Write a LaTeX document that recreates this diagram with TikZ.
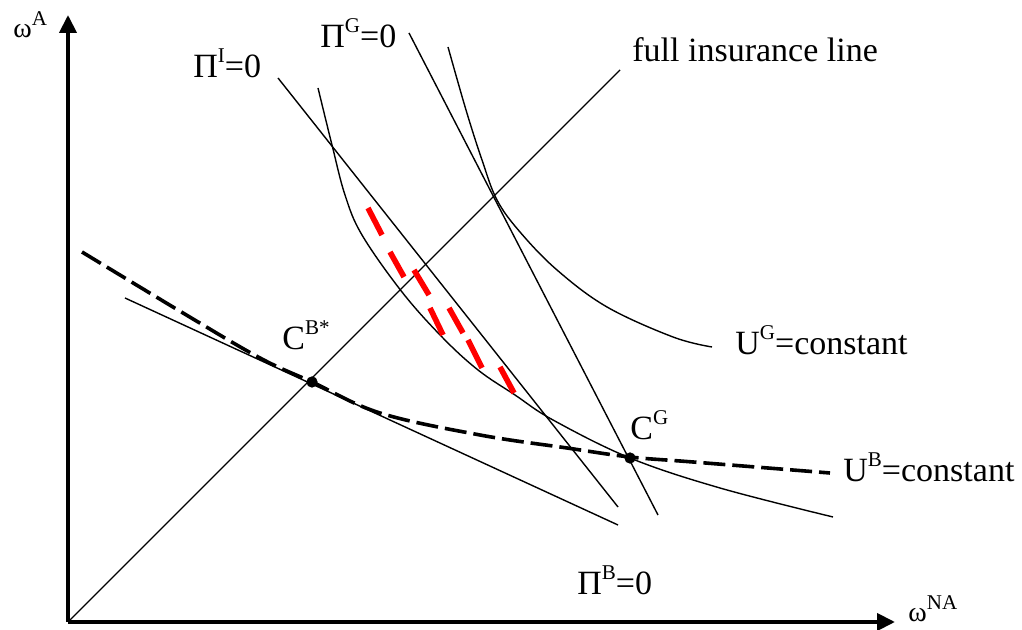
\documentclass[tikz,border=0pt]{standalone}
\usepackage{fontspec}
\setmainfont{Liberation Serif}
\usepackage{xcolor}
\usepackage{tikz}
\usetikzlibrary{arrows.meta}
\definecolor{lensred}{HTML}{FF0000}
\newcommand{\upidx}[2][7.5pt]{\raisebox{#1}{\fontsize{10.5}{10.5}\selectfont #2}}

\begin{document}
\begin{tikzpicture}[x=0.5pt,y=0.5pt,
  lbl/.style={anchor=base west,inner sep=0pt,font=\fontsize{17}{20}\selectfont},
  wlbl/.style={anchor=base west,inner sep=0pt,font=\fontsize{14}{16}\selectfont},
  thinline/.style={line width=0.7pt},
  axis/.style={line width=2pt,-{Triangle[length=9pt,width=8.5pt]}},
  ucurve/.style={line width=1.8pt,dash pattern=on 11pt off 3.5pt},
  lens/.style={lensred,line width=2.8pt}]
  \useasboundingbox (0,0) rectangle (1022,630);
  \coordinate (O) at (68,8);
  \coordinate (ytip) at (68,615);
  \coordinate (xtip) at (895,8);
  \coordinate (CBs) at (312,248);
  \coordinate (CG) at (630,172);

  \draw[axis] (O) -- (ytip);
  \draw[axis] (O) -- (xtip);
  \node[wlbl] (wa) at (13,592) {ω\upidx[6pt]{A}};
  \node[wlbl] (wna) at (908,8) {ω\upidx[6pt]{NA}};

  \draw[thinline] (O) -- (620,560);
  \node[lbl] (full) at (632,568) {full insurance line};

  \draw[thinline] (278,552) -- (618,123);
  \draw[thinline] (409,597) -- (658,115);
  \draw[thinline] (125,332) -- (618,105);
  \node[lbl] (pii) at (193,552) {Π\upidx{I}=0};
  \node[lbl] (pig) at (320,582) {Π\upidx{G}=0};
  \node[lbl] (pib) at (577,35) {Π\upidx{B}=0};

  \draw[thinline] plot[smooth,tension=0.6] coordinates {(448,583) (466,520) (482,470) (497,430) (520,398) (557,360) (607,323) (673,293) (712,283)};
  \draw[thinline] plot[smooth,tension=0.6] coordinates {(318,542) (332,485) (345,435) (362,395) (402,338) (442,293) (478,260) (515,235) (553,210) (630,172) (720,142) (833,113)};
  \draw[ucurve] plot[smooth,tension=0.6] coordinates {(82,378) (183,317) (260,272) (312,248) (380,217) (480,195) (567,182) (630,173) (693,168) (830,157)};
  \node[lbl] (ug) at (735,275) {U\upidx{G}=constant};
  \node[lbl] (ub) at (843,148) {U\upidx{B}=constant};

  \foreach \xa/\ya/\xb/\yb in {368/422/382/395, 390/378/404/353, 414/360/429/335, 430/322/443/295, 449/322/463/297, 468/290/482/262, 500/263/514/237}
    \draw[lens] (\xa,\ya) -- (\xb,\yb);

  \filldraw[black] (CBs) circle (2.6pt);
  \filldraw[black] (CG) circle (2.6pt);
  \node[lbl] (cbs) at (282,280) {C\upidx{B*}};
  \node[lbl] (cg) at (630,190) {C\upidx{G}};
\end{tikzpicture}
\end{document}
